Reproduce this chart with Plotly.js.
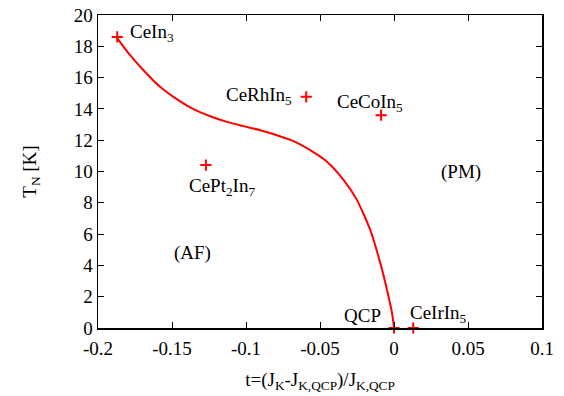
<!DOCTYPE html>
<html>
<head>
<meta charset="utf-8">
<script src="https://cdn.plot.ly/plotly-3.0.1.min.js"></script>
<style>html,body{margin:0;padding:0;background:#fff;}#chart{width:564px;height:396px;}</style>
</head>
<body>
<div id="chart"></div>
<script>
// Phase boundary curve
var curveT = [-0.1873, -0.1783, -0.1693, -0.1581, -0.1468, -0.1355, -0.1242, -0.1129, -0.1017, -0.0904, -0.0791, -0.0679, -0.0566, -0.0453, -0.0340, -0.0250, -0.0160, -0.0092, -0.0047, -0.0013, 0.0];
var curveTN = [18.56, 17.43, 16.47, 15.41, 14.62, 13.98, 13.53, 13.17, 12.90, 12.64, 12.32, 11.94, 11.36, 10.62, 9.45, 8.17, 6.26, 4.13, 2.43, 0.94, 0.0];

// Compounds (markers)
var compT = [-0.187, -0.0593, -0.0087, -0.1271, 0.013, 0.0];
var compTN = [18.6, 14.77, 13.6, 10.41, 0.0, 0.0];

// Labels
var labels = ["CeIn<sub>3</sub>", "CeRhIn<sub>5</sub>", "CeCoIn<sub>5</sub>", "CePt<sub>2</sub>In<sub>7</sub>", "CeIrIn<sub>5</sub>", "QCP", "(PM)", "(AF)"];
var labelT = [-0.1797, -0.1147, -0.0396, -0.1398, 0.0097, -0.0349, 0.0453, -0.1359];
var labelTN = [19.03, 15.0, 14.55, 9.19, 1.09, 0.83, 9.96, 4.79];

// Axis ticks
var xTickVals = [-0.2, -0.15, -0.1, -0.05, 0, 0.05, 0.1];
var xTickText = ["-0.2", "-0.15", "-0.1", "-0.05", "0", "0.05", "0.1"];
var yTickVals = [0, 2, 4, 6, 8, 10, 12, 14, 16, 18, 20];

var FAMILY = "'Liberation Serif', 'Times New Roman', Times, serif";
var font = {family: FAMILY, size: 19, color: "#000"};

var traces = [
  {x: curveT, y: curveTN, mode: "lines", line: {color: "#ff0000", width: 2, shape: "spline", smoothing: 0.6}, hoverinfo: "skip", showlegend: false},
  {x: compT, y: compTN, mode: "markers", marker: {symbol: "cross-thin", size: 8, line: {color: "#ff0000", width: 2}, color: "#ff0000"}, showlegend: false, cliponaxis: false}
];

var annotations = [];
for (var i = 0; i < labels.length; i++) {
  var hasSub = labels[i].indexOf("<sub>") >= 0;
  var isRegion = labels[i].charAt(0) === "(";
  annotations.push({x: labelT[i], y: labelTN[i], xref: "x", yref: "y", text: labels[i], showarrow: false,
    xanchor: isRegion ? "center" : "left", yanchor: "middle", yshift: hasSub ? -3 : 0, font: font});
}

var axisCommon = {showgrid: false, zeroline: false, showline: true, linecolor: "#000", linewidth: 1.5,
  ticks: "inside", ticklen: 6, tickwidth: 1, tickcolor: "#000", mirror: "ticks", tickfont: font};

var layout = {
  width: 564, height: 396,
  margin: {l: 98, r: 22, t: 15, b: 68},
  paper_bgcolor: "#fff", plot_bgcolor: "#fff",
  font: font,
  showlegend: false,
  xaxis: Object.assign({}, axisCommon, {range: [-0.2, 0.1], tickmode: "array", tickvals: xTickVals, ticktext: xTickText,
    ticklabelstandoff: 3,
    title: {text: "t=(J<sub>K</sub>-J<sub>K,QCP</sub>)/J<sub>K,QCP</sub>", font: {family: FAMILY, size: 19, color: "#000"}, standoff: 14}}),
  yaxis: Object.assign({}, axisCommon, {range: [0, 20], tickmode: "array", tickvals: yTickVals,
    title: {text: "T<sub>N</sub> [K]", font: font, standoff: 32}}),
  annotations: annotations
};

Plotly.newPlot("chart", traces, layout, {displayModeBar: false, staticPlot: true});
</script>
</body>
</html>
